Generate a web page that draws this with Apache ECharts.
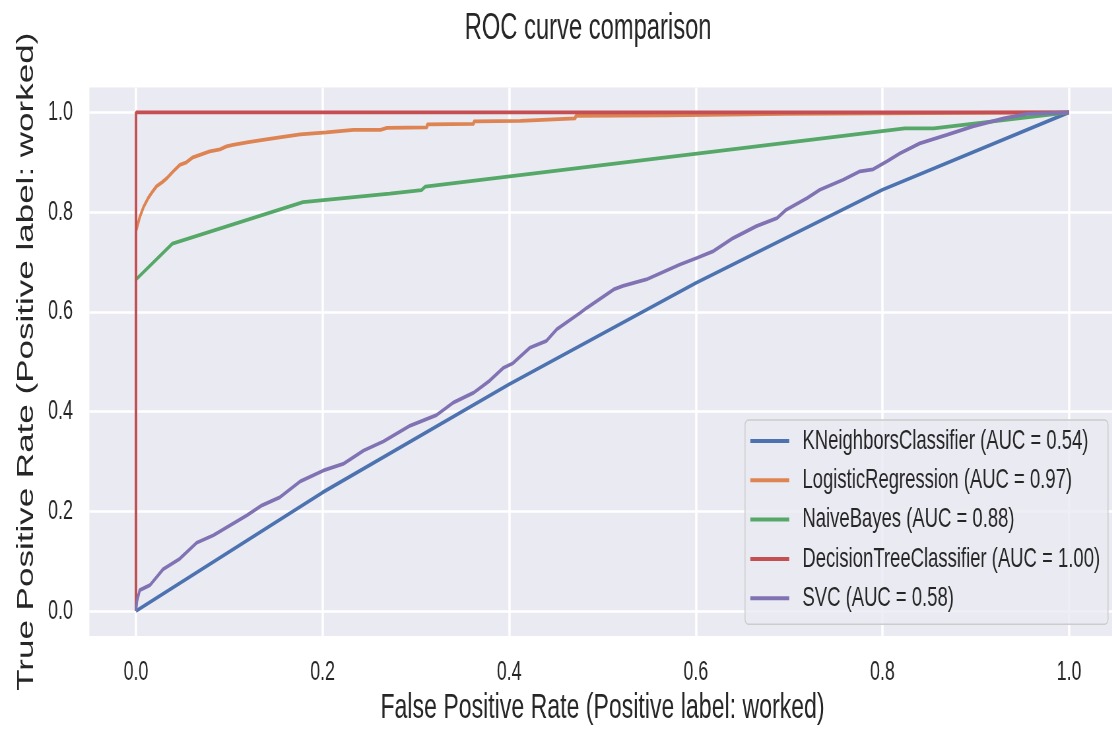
<!DOCTYPE html>
<html>
<head>
<meta charset="utf-8">
<script src="https://cdn.jsdelivr.net/npm/echarts@6/dist/echarts.min.js"></script>
<style>
html,body{margin:0;padding:0;background:#fff;overflow:hidden;width:1112px;height:731px;}
#c{width:1700px;height:731px;transform:scaleX(0.66);transform-origin:0 0;}
</style>
</head>
<body>
<div id="c"></div>
<script>
// ---- data ----
const chartTitle = 'ROC curve comparison';
const xAxisTitle = 'False Positive Rate (Positive label: worked)';
const yAxisTitle = 'True Positive Rate (Positive label: worked)';
const tickValues = [0.0, 0.2, 0.4, 0.6, 0.8, 1.0];
const seriesNames = [
  'KNeighborsClassifier (AUC = 0.54)',
  'LogisticRegression (AUC = 0.97)',
  'NaiveBayes (AUC = 0.88)',
  'DecisionTreeClassifier (AUC = 1.00)',
  'SVC (AUC = 0.58)'
];
const seriesColors = ['#4C72B0', '#DD8452', '#55A868', '#C44E52', '#8172B3'];

const knnFpr = [0, 0.2, 0.4, 0.6, 0.8, 1.0];
const knnTpr = [0, 0.238, 0.455, 0.658, 0.845, 1.0];

const lrFpr = [0, 0, 0.004, 0.008, 0.013, 0.018, 0.022, 0.028, 0.033, 0.040, 0.047, 0.054, 0.061, 0.070, 0.079, 0.090, 0.097, 0.104, 0.119, 0.136, 0.154, 0.176, 0.204, 0.233, 0.262, 0.269, 0.312, 0.312, 0.362, 0.362, 0.412, 0.412, 0.471, 0.471, 0.569, 0.569, 0.696, 0.696, 1.0];
const lrTpr = [0, 0.762, 0.790, 0.810, 0.828, 0.842, 0.852, 0.860, 0.868, 0.882, 0.895, 0.900, 0.910, 0.916, 0.922, 0.926, 0.932, 0.935, 0.940, 0.945, 0.950, 0.956, 0.960, 0.965, 0.965, 0.969, 0.970, 0.976, 0.977, 0.982, 0.983, 0.987, 0.988, 0.993, 0.994, 0.997, 0.997, 1.0, 1.0];

const nbFpr = [0, 0, 0.039, 0.179, 0.272, 0.306, 0.310, 0.824, 0.855, 1.0];
const nbTpr = [0, 0.665, 0.737, 0.820, 0.837, 0.844, 0.851, 0.968, 0.968, 1.0];

const dtFpr = [0, 0, 1.0];
const dtTpr = [0, 1.0, 1.0];

const svcFpr = [0, 0.001, 0.004, 0.015, 0.029, 0.047, 0.065, 0.083, 0.101, 0.119, 0.135, 0.154, 0.176, 0.201, 0.222, 0.244, 0.265, 0.294, 0.322, 0.340, 0.362, 0.379, 0.394, 0.404, 0.422, 0.440, 0.451, 0.476, 0.483, 0.512, 0.522, 0.547, 0.583, 0.601, 0.619, 0.640, 0.665, 0.687, 0.697, 0.719, 0.733, 0.758, 0.776, 0.790, 0.805, 0.819, 0.840, 0.869, 0.897, 0.930, 0.955, 1.0];
const svcTpr = [0, 0.020, 0.042, 0.052, 0.084, 0.105, 0.137, 0.152, 0.172, 0.192, 0.212, 0.228, 0.260, 0.282, 0.295, 0.322, 0.340, 0.372, 0.393, 0.418, 0.438, 0.462, 0.488, 0.497, 0.528, 0.542, 0.565, 0.598, 0.608, 0.645, 0.652, 0.665, 0.695, 0.708, 0.722, 0.748, 0.772, 0.788, 0.805, 0.828, 0.845, 0.865, 0.882, 0.886, 0.902, 0.918, 0.938, 0.955, 0.972, 0.988, 0.997, 1.0];

// ---- build ----
const zip = (a, b) => a.map((v, i) => [v, b[i]]);
const curves = [zip(knnFpr, knnTpr), zip(lrFpr, lrTpr), zip(nbFpr, nbTpr), zip(dtFpr, dtTpr), zip(svcFpr, svcTpr)];
const FONT = '"Liberation Sans", Arial, Helvetica, sans-serif';
const TXT = '#262626';
const fmt = v => v.toFixed(1);

const chart = echarts.init(document.getElementById('c'), null, {renderer: 'canvas'});
chart.setOption({
  animation: false,
  color: seriesColors,
  textStyle: {fontFamily: FONT},
  title: {
    text: chartTitle,
    left: 886, top: 6, textAlign: 'center',
    textStyle: {fontFamily: FONT, fontSize: 36, fontWeight: 'normal', color: TXT}
  },
  grid: {
    left: 135.4, right: 9.6, top: 87.5, bottom: 93.5,
    show: true, backgroundColor: '#EAEAF2', borderWidth: 0, containLabel: false
  },
  xAxis: {
    type: 'value', min: -0.05, max: 1.05,
    name: xAxisTitle, nameLocation: 'middle', nameGap: 55,
    nameTextStyle: {fontFamily: FONT, fontSize: 35, color: TXT},
    axisLine: {show: false},
    axisTick: {show: false, customValues: tickValues},
    axisLabel: {customValues: tickValues, formatter: fmt, fontFamily: FONT, fontSize: 27, color: TXT, margin: 23},
    splitLine: {show: true, lineStyle: {color: '#ffffff', width: 3.5}}
  },
  yAxis: {
    type: 'value', min: -0.05, max: 1.05,
    name: yAxisTitle, nameLocation: 'middle', nameGap: 78,
    nameTextStyle: {fontFamily: FONT, fontSize: 35, color: TXT},
    axisLine: {show: false},
    axisTick: {show: false, customValues: tickValues},
    axisLabel: {customValues: tickValues, formatter: fmt, fontFamily: FONT, fontSize: 27, color: TXT, margin: 25},
    splitLine: {show: true, lineStyle: {color: '#ffffff', width: 2.5}}
  },
  legend: {
    orient: 'vertical', left: 1128.8, top: 420,
    data: seriesNames,
    icon: 'rect', itemWidth: 59, itemHeight: 4, itemGap: 11.3,
    padding: [7, 12, 12, 8],
    backgroundColor: 'rgba(234,234,242,0.8)', borderColor: '#cccccc', borderWidth: 1.5, borderRadius: 5,
    selectedMode: false,
    textStyle: {fontFamily: FONT, fontSize: 28, color: TXT, lineHeight: 28, padding: [0, 0, 0, 15]}
  },
  series: curves.map((d, i) => ({
    name: seriesNames[i], type: 'line', data: d, showSymbol: false, symbol: 'none',
    lineStyle: {width: 3.8, color: seriesColors[i]}, itemStyle: {color: seriesColors[i]},
    emphasis: {disabled: true}, z: 2 + i
  }))
});
</script>
</body>
</html>
